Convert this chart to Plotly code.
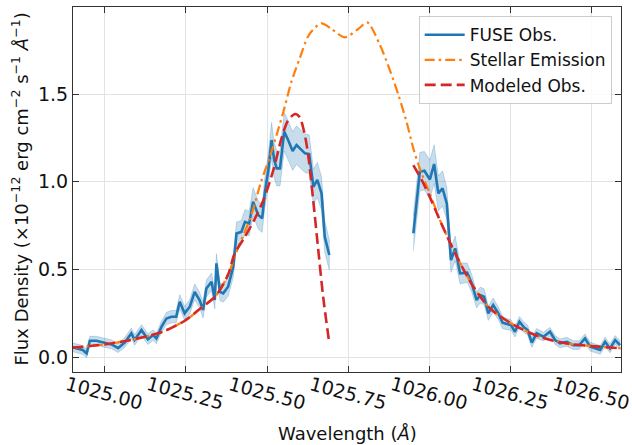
import plotly.graph_objects as go

# ---------------- data ----------------
# FUSE observations, segment 1 (blue)
obs1_x = [1024.901, 1024.912, 1024.922, 1024.932, 1024.944, 1024.954, 1024.974, 1024.995,
          1025.021, 1025.041, 1025.062, 1025.082, 1025.092, 1025.113, 1025.133, 1025.149,
          1025.159, 1025.175, 1025.190, 1025.205, 1025.220, 1025.231, 1025.246, 1025.262,
          1025.277, 1025.292, 1025.303, 1025.313, 1025.329, 1025.339, 1025.344, 1025.355,
          1025.365, 1025.380, 1025.396, 1025.406, 1025.421, 1025.432, 1025.445, 1025.457,
          1025.473, 1025.485, 1025.493, 1025.504, 1025.514, 1025.522, 1025.530, 1025.540,
          1025.553, 1025.565, 1025.579, 1025.591, 1025.607, 1025.617, 1025.630, 1025.643,
          1025.655, 1025.668, 1025.678, 1025.692]
obs1_y = [0.055, 0.050, 0.044, 0.040, 0.021, 0.093, 0.093, 0.082,
          0.072, 0.050, 0.084, 0.135, 0.097, 0.154, 0.101, 0.125,
          0.106, 0.173, 0.220, 0.230, 0.230, 0.315, 0.249, 0.287,
          0.372, 0.325, 0.268, 0.391, 0.429, 0.325, 0.534, 0.372,
          0.363, 0.401, 0.515, 0.705, 0.714, 0.771, 0.762, 0.886,
          0.810, 0.791, 0.934, 1.067, 1.238, 1.124, 1.076, 1.076,
          1.286, 1.238, 1.175, 1.209, 1.181, 1.162, 1.158, 0.971,
          1.010, 0.934, 0.686, 0.582]
obs1_err = [0.025, 0.025, 0.025, 0.025, 0.025, 0.025, 0.025, 0.025,
            0.025, 0.025, 0.028, 0.03, 0.03, 0.03, 0.03, 0.03,
            0.03, 0.032, 0.035, 0.035, 0.035, 0.04, 0.04, 0.04,
            0.045, 0.045, 0.045, 0.048, 0.05, 0.05, 0.055, 0.05,
            0.05, 0.055, 0.06, 0.065, 0.065, 0.07, 0.07, 0.08,
            0.08, 0.08, 0.085, 0.09, 0.1, 0.1, 0.1, 0.1,
            0.11, 0.11, 0.11, 0.11, 0.11, 0.11, 0.11, 0.1,
            0.1, 0.095, 0.09, 0.085]

# FUSE observations, segment 2 (blue)
obs2_x = [1025.951, 1025.971, 1025.985, 1026.002, 1026.015, 1026.028, 1026.041, 1026.054,
          1026.067, 1026.080, 1026.095, 1026.117, 1026.131, 1026.146, 1026.157, 1026.169,
          1026.182, 1026.197, 1026.213, 1026.226, 1026.239, 1026.252, 1026.264, 1026.278,
          1026.290, 1026.303, 1026.316, 1026.331, 1026.352, 1026.372, 1026.388, 1026.403,
          1026.424, 1026.444, 1026.462, 1026.480, 1026.496, 1026.511, 1026.527, 1026.542,
          1026.557, 1026.573, 1026.588]
obs2_y = [0.706, 1.057, 1.063, 1.013, 1.101, 0.934, 0.962, 0.876,
          0.553, 0.620, 0.477, 0.481, 0.420, 0.325, 0.353, 0.344,
          0.249, 0.296, 0.249, 0.196, 0.188, 0.182, 0.144, 0.201,
          0.173, 0.154, 0.082, 0.135, 0.116, 0.144, 0.097, 0.078,
          0.087, 0.068, 0.068, 0.106, 0.059, 0.049, 0.040, 0.087,
          0.049, 0.097, 0.068]
obs2_err = [0.1, 0.11, 0.11, 0.11, 0.11, 0.1, 0.1, 0.09,
            0.07, 0.07, 0.06, 0.055, 0.05, 0.045, 0.045, 0.045,
            0.04, 0.04, 0.035, 0.035, 0.032, 0.03, 0.03, 0.03,
            0.03, 0.028, 0.028, 0.028, 0.025, 0.025, 0.025, 0.025,
            0.025, 0.025, 0.025, 0.025, 0.025, 0.025, 0.025, 0.025,
            0.025, 0.025, 0.025]

# Stellar emission (orange)
stel_x = [1024.90, 1025.00, 1025.10, 1025.18, 1025.25, 1025.30, 1025.34, 1025.38,
          1025.41, 1025.45, 1025.48, 1025.51, 1025.53, 1025.555, 1025.575, 1025.60,
          1025.63, 1025.668, 1025.70, 1025.74, 1025.78, 1025.809, 1025.848, 1025.88,
          1025.905, 1025.93, 1025.951, 1025.97, 1026.00, 1026.04, 1026.085, 1026.136,
          1026.187, 1026.26, 1026.34, 1026.42, 1026.50, 1026.59]
stel_y = [0.053, 0.072, 0.105, 0.145, 0.211, 0.285, 0.344, 0.47,
          0.62, 0.80, 0.99, 1.15, 1.27, 1.43, 1.57, 1.70,
          1.84, 1.904, 1.87, 1.824, 1.87, 1.909, 1.78, 1.63,
          1.495, 1.342, 1.19, 1.08, 0.94, 0.75, 0.572, 0.401,
          0.278, 0.183, 0.116, 0.078, 0.062, 0.050]

# Modeled observation (red), two segments
mod1_x = [1024.90, 1025.00, 1025.10, 1025.18, 1025.25, 1025.30, 1025.34, 1025.38,
          1025.40, 1025.43, 1025.46, 1025.49, 1025.52, 1025.545, 1025.565, 1025.586,
          1025.60, 1025.615, 1025.627, 1025.642, 1025.658, 1025.673, 1025.692]
mod1_y = [0.053, 0.072, 0.105, 0.145, 0.211, 0.285, 0.344, 0.47,
          0.59, 0.68, 0.78, 0.90, 1.07, 1.25, 1.35, 1.386,
          1.37, 1.28, 1.15, 0.90, 0.61, 0.344, 0.078]
mod2_x = [1025.951, 1025.982, 1026.00, 1026.04, 1026.085, 1026.136, 1026.187, 1026.26,
          1026.34, 1026.42, 1026.50, 1026.59]
mod2_y = [1.095, 0.991, 0.92, 0.75, 0.572, 0.401, 0.278, 0.183,
          0.116, 0.078, 0.062, 0.050]

x_ticks = [1025.00, 1025.25, 1025.50, 1025.75, 1026.00, 1026.25, 1026.50]
x_tick_labels = ["1025.00", "1025.25", "1025.50", "1025.75", "1026.00", "1026.25", "1026.50"]
y_ticks = [0.0, 0.5, 1.0, 1.5]
y_tick_labels = ["0.0", "0.5", "1.0", "1.5"]

BLUE = "#1f77b4"
ORANGE = "#ff7f0e"
RED = "#d62728"
FONT = "DejaVu Sans"

fig = go.Figure()

# error bands
for xs, ys, es in [(obs1_x, obs1_y, obs1_err), (obs2_x, obs2_y, obs2_err)]:
    up = [y + e for y, e in zip(ys, es)]
    lo = [y - e for y, e in zip(ys, es)]
    fig.add_trace(go.Scatter(
        x=xs + xs[::-1], y=up + lo[::-1], fill="toself",
        fillcolor="rgba(31,119,180,0.25)",
        line=dict(color="rgba(31,119,180,0.3)", width=0.8),
        hoverinfo="skip", showlegend=False))

fig.add_trace(go.Scatter(
    x=obs1_x + [None] + obs2_x, y=obs1_y + [None] + obs2_y,
    mode="lines", name="FUSE Obs.", line=dict(color=BLUE, width=2.6)))

fig.add_trace(go.Scatter(
    x=stel_x, y=stel_y, mode="lines", name="Stellar Emission",
    line=dict(color=ORANGE, width=2.2, dash="10px,4px,2.5px,4px",
              shape="spline", smoothing=0.8)))

fig.add_trace(go.Scatter(
    x=mod1_x + [None] + mod2_x, y=mod1_y + [None] + mod2_y,
    mode="lines", name="Modeled Obs.",
    line=dict(color=RED, width=2.6, dash="11px,5px",
              shape="spline", smoothing=0.8)))

axis_common = dict(
    showline=True, linecolor="#333", linewidth=1, mirror="ticks",
    ticks="inside", ticklen=6, tickwidth=1, tickcolor="#333",
    showgrid=True, gridcolor="#e3e3e3", gridwidth=1, zeroline=False,
    tickfont=dict(family=FONT, size=19, color="#111"),
)

# rotated x tick labels, centred on their ticks (as in the reference)
annotations = [
    dict(text=lab, xref="x", yref="paper", x=v, y=0, yshift=-21,
         xanchor="center", yanchor="middle", textangle=15, showarrow=False,
         font=dict(family=FONT, size=19, color="#111"))
    for v, lab in zip(x_ticks, x_tick_labels)
]
annotations += [
    dict(text="Wavelength (<i>Å</i>)", xref="paper", yref="paper",
         x=0.5, y=0, yshift=-61, xanchor="center", yanchor="middle",
         showarrow=False, font=dict(family=FONT, size=18, color="#111")),
    dict(text="Flux Density (×10<sup>−12</sup> erg cm<sup>−2</sup> s<sup>−1</sup> <i>Å</i><sup>−1</sup>)",
         xref="paper", yref="paper", x=0, y=0.5, xshift=-53,
         xanchor="center", yanchor="middle", textangle=-90,
         showarrow=False, font=dict(family=FONT, size=18, color="#111")),
]

fig.update_layout(
    width=632, height=445,
    margin=dict(l=73, r=11, t=7, b=73),
    paper_bgcolor="white", plot_bgcolor="white",
    font=dict(family=FONT, color="#111"),
    xaxis=dict(range=[1024.902, 1026.591], tickvals=x_ticks,
               showticklabels=False, **axis_common),
    yaxis=dict(range=[-0.0856, 1.997], tickvals=y_ticks,
               ticktext=y_tick_labels, **axis_common),
    legend=dict(x=0.983, y=0.975, xanchor="right", yanchor="top",
                bgcolor="rgba(255,255,255,0.85)", bordercolor="#cccccc",
                borderwidth=1, font=dict(family=FONT, size=17, color="#111"),
                tracegroupgap=0, itemwidth=40),
    annotations=annotations,
)

fig.write_html("out.html")
